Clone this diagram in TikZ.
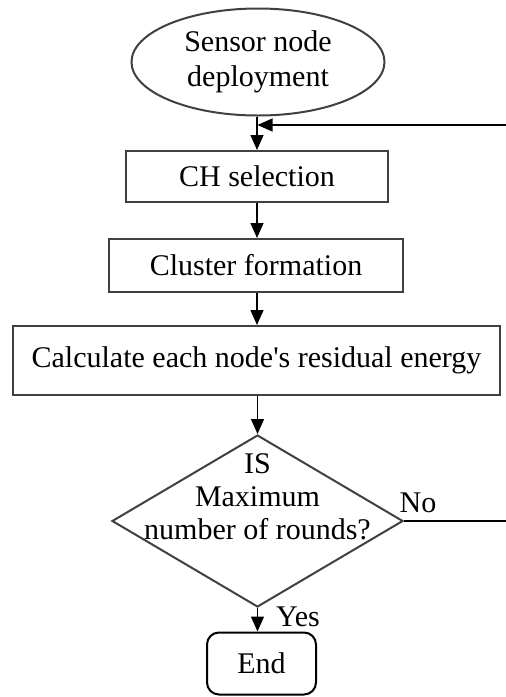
\documentclass[tikz,border=0pt]{standalone}
\usepackage{fontspec}
\setmainfont{Liberation Serif}
\usetikzlibrary{shapes.geometric,arrows.meta}

\definecolor{edge}{HTML}{404040}

\tikzset{
  every node/.style={font=\fontsize{30}{35}\selectfont, inner sep=0pt},
  procbox/.style={draw=edge, line width=2pt, rectangle, align=center},
  startnode/.style={draw=edge, line width=2pt, ellipse, align=center},
  decision/.style={draw=edge, line width=2pt, diamond},
  endbox/.style={draw=black, line width=2pt, rectangle, rounded corners=12pt},
  flow/.style={line width=1.3pt, -{Triangle[length=15pt,width=13pt]}},
  plain/.style={line width=1.3pt}
}

\begin{document}
\begin{tikzpicture}[x=1pt,y=-1pt]
  \useasboundingbox (0,0) rectangle (506,697);

  % process chain
  \node[startnode, minimum width=253pt, minimum height=107pt] (deploy) at (258,62)
    {Sensor node\\deployment};
  \node[procbox, minimum width=262pt, minimum height=51pt] (chsel) at (257,176.5)
    {CH selection};
  \node[procbox, minimum width=294pt, minimum height=53pt] (cluster) at (256,265.5)
    {Cluster formation};
  \node[procbox, minimum width=487pt, minimum height=69pt] (energy) at (256.5,360.5)
    {Calculate each node\textquotesingle s residual energy};
  \node[decision, minimum width=291pt, minimum height=172pt] (check) at (257.5,521) {};
  \node[align=center, font=\fontsize{30}{33}\selectfont] (checktext) at (257.5,497)
    {IS\\Maximum\\number of rounds?};
  \node[endbox, minimum width=109pt, minimum height=62pt] (finish) at (261.5,663.5) {End};

  % loop-back ends at the right margin
  \coordinate (loopin) at (506,125);
  \coordinate (loopjoin) at (257.5,125);
  \coordinate (loopout) at (506,521);

  % connectors
  \draw[flow] (deploy.south -| chsel.north) -- (chsel.north);
  \draw[flow] (chsel.south) -- (chsel.south |- cluster.north);
  \draw[flow] (cluster.south -| chsel.south) -- (chsel.south |- energy.north);
  \draw[flow] (energy.south -| check.north) -- (check.north);
  \draw[flow] (check.south) -- (check.south |- finish.north);
  \draw[flow] (loopin) -- (loopjoin);
  \draw[plain] (check.east) -- (loopout);

  % branch labels
  \node (nolabel) at (418,503) {No};
  \node (yeslabel) at (298,617) {Yes};
\end{tikzpicture}
\end{document}
